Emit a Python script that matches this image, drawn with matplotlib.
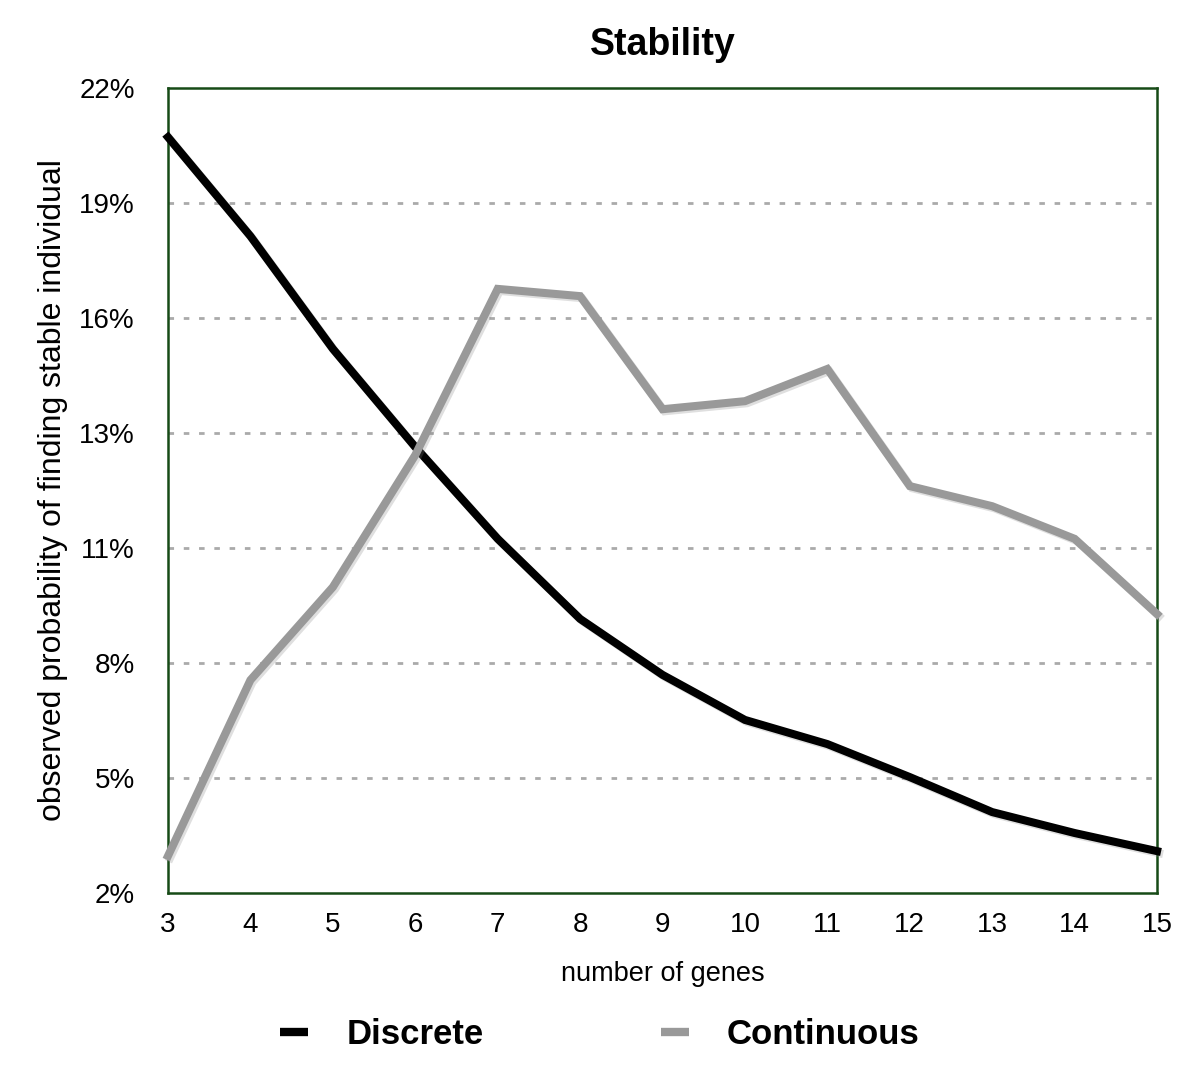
import numpy as np
import matplotlib
matplotlib.use("Agg")
import matplotlib.pyplot as plt
import matplotlib.patheffects as pe

# data (percent)
genes = [3, 4, 5, 6, 7, 8, 9, 10, 11, 12, 13, 14, 15]
discrete = [20.78, 18.32, 15.52, 13.08, 10.80, 8.81, 7.42, 6.30, 5.70, 4.88, 4.01, 3.49, 3.04]
continuous = [2.92, 7.29, 9.60, 12.88, 17.01, 16.83, 14.02, 14.22, 15.02, 12.11, 11.61, 10.80, 8.93]

y_ticks = np.linspace(2, 22, 8)
y_labels = ["2%", "5%", "8%", "11%", "13%", "16%", "19%", "22%"]

plt.rcParams['font.family'] = ['Liberation Sans', 'DejaVu Sans']

fig = plt.figure(figsize=(12, 10.79), dpi=100)
ax = fig.add_axes([0.14, 0.1724, 0.8242, 0.746])

shadow = [pe.SimpleLineShadow(offset=(1.5, -1.5), shadow_color='gray', alpha=0.25), pe.Normal()]
ax.plot(genes, discrete, color="black", lw=5.8, label="Discrete",
        solid_joinstyle='miter', path_effects=shadow, clip_on=False, zorder=3)
ax.plot(genes, continuous, color="#999999", lw=5.8, label="Continuous",
        solid_joinstyle='miter', path_effects=shadow, clip_on=False, zorder=3)

ax.set_xlim(3, 15)
ax.set_ylim(2, 22)
ax.set_xticks(genes)
ax.set_yticks(y_ticks)
ax.set_yticklabels(y_labels)
ax.tick_params(axis='y', length=0, labelsize=20, pad=24)
ax.tick_params(axis='x', length=0, labelsize=20, pad=14)

for y in y_ticks[1:-1]:
    ax.axhline(y, color="#aaaaaa", lw=2, linestyle=(0, (2, 3.5)), zorder=1)

for s in ax.spines.values():
    s.set_color("#174a17")
    s.set_linewidth(1.8)

ax.set_title("Stability", fontsize=27, fontweight="bold", pad=24)
ax.set_xlabel("number of genes", fontsize=19.5, labelpad=16)
ax.set_ylabel("observed probability of finding stable individual", fontsize=23, labelpad=8)

leg = fig.legend(loc="center", bbox_to_anchor=(0.5, 0.041), ncol=2, frameon=False,
                 prop={'weight': 'bold', 'size': 25}, handlelength=0.8,
                 columnspacing=5.1, handletextpad=1.1)
for h in leg.get_lines():
    h.set_linewidth(6)
    h.set_solid_capstyle('butt')
    h.set_path_effects([])

fig.savefig("out.png", dpi=100)
